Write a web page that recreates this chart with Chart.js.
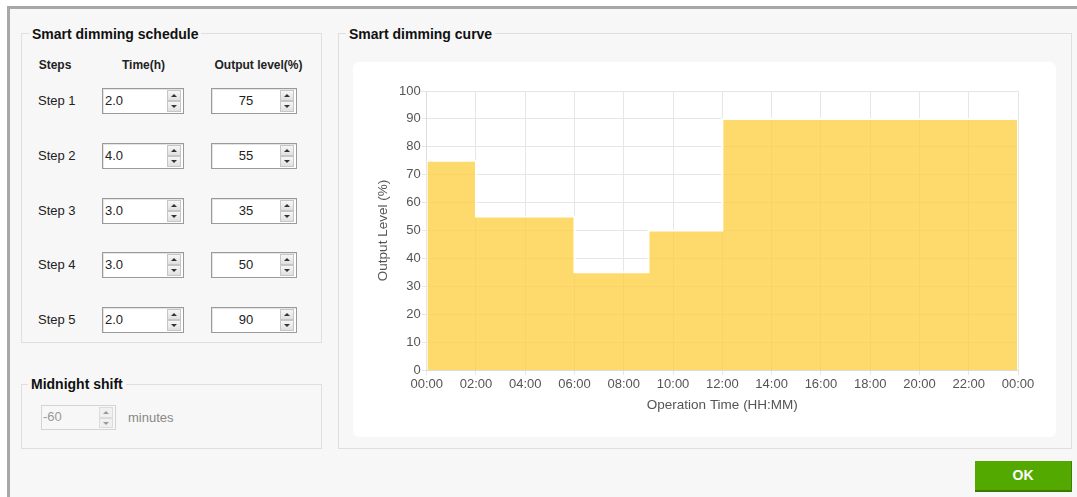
<!DOCTYPE html>
<html>
<head>
<meta charset="utf-8">
<script src="https://cdn.jsdelivr.net/npm/chart.js@4.4.1/dist/chart.umd.min.js"></script>
<style>
  body { margin: 0; width: 1077px; height: 497px; overflow: hidden; background: #fff;
         font-family: Arial, "Liberation Sans", sans-serif; color: #222; position: relative; }
  .dialog { position: absolute; left: 7px; top: 6px; width: 1070px; height: 491px; box-sizing: border-box;
            background: #f7f7f7; border-left: 3px solid #a8a8a8; border-top: 3px solid #a8a8a8; }
  .box { position: absolute; box-sizing: border-box; border: 1px solid #dfdfdf; }
  .legend { position: absolute; background: #f7f7f7; padding: 0 3px; font-weight: bold; font-size: 14px;
            line-height: 16px; color: #111; white-space: nowrap; }
  .txt { position: absolute; font-size: 13px; line-height: 16px; white-space: nowrap; }
  .hdr { position: absolute; font-size: 12px; font-weight: bold; line-height: 16px; white-space: nowrap;
         transform: translateX(-50%); }
  .inp { position: absolute; height: 26px; box-sizing: border-box; border: 1px solid #9a9a9a;
         background: #fff; box-shadow: inset 1px 1px 0 #e4e4e4; }
  .inp .val { position: absolute; top: 4px; font-size: 13px; line-height: 16px; color: #222; }
  .spin { position: absolute; top: 1px; width: 14px; height: 22px; }
  .spin div { position: absolute; left: 0; width: 14px; height: 11px; box-sizing: border-box;
              border: 1px solid #c6c6c6; background: linear-gradient(#f6f6f6, #e0e0e0); }
  .spin .up { top: 0; }
  .spin .dn { top: 11px; }
  .spin div::after { content: ""; position: absolute; left: 3px; width: 0; height: 0;
                     border-left: 3px solid transparent; border-right: 3px solid transparent; }
  .spin .up::after { top: 3px; border-bottom: 3px solid #333; }
  .spin .dn::after { top: 3px; border-top: 3px solid #333; }
  .dis { border-color: #d4d4d4; background: #f7f7f7; box-shadow: none; }
  .dis .val { color: #999; }
  .dis .spin div { border-color: #dcdcdc; background: #f0f0f0; }
  .dis .spin .up::after { border-bottom-color: #999; }
  .dis .spin .dn::after { border-top-color: #999; }
  .panel { position: absolute; left: 353px; top: 62px; width: 703px; height: 375px; background: #fff;
           border-radius: 6px; }
  .ok { position: absolute; left: 975px; top: 461px; width: 97px; height: 31px; box-sizing: border-box;
        background: #53a900; border-bottom: 2px solid #3a7800; border-right: 1px solid #3f8200;
        color: #fff; font-weight: bold; font-size: 14px; line-height: 29px; text-align: center; }
</style>
</head>
<body>
<div class="dialog"></div>

<div class="box" style="left:21px;top:33px;width:301px;height:310px;"></div>
<div class="legend" style="left:29px;top:26px;">Smart dimming schedule</div>
<div class="hdr" style="left:55px;top:57px;">Steps</div>
<div class="hdr" style="left:143.5px;top:57px;">Time(h)</div>
<div class="hdr" style="left:258.5px;top:57px;">Output level(%)</div>
<div id="rows"></div>

<div class="box" style="left:21px;top:384px;width:301px;height:65px;"></div>
<div class="legend" style="left:28px;top:376px;">Midnight shift</div>
<div class="inp dis" style="left:41px;top:405px;width:75px;height:25px;">
  <div class="val" style="left:1px;top:3px;" id="shift"></div>
  <div class="spin" style="right:2px;height:21px;"><div class="up"></div><div class="dn" style="height:10px"></div></div>
</div>
<div class="txt" style="left:128px;top:410px;color:#888;">minutes</div>

<div class="box" style="left:338px;top:33px;width:734px;height:416px;"></div>
<div class="legend" style="left:346px;top:26px;">Smart dimming curve</div>
<div class="panel"><canvas id="curve" width="703" height="375"></canvas></div>

<div class="ok">OK</div>

<script>
// schedule form values
const stepNames = ['Step 1', 'Step 2', 'Step 3', 'Step 4', 'Step 5'];
const stepTimes = ['2.0', '4.0', '3.0', '3.0', '2.0'];
const stepLevels = [75, 55, 35, 50, 90];
const midnightShift = -60;

// curve: start hour of each step (last one runs to 24:00) and its level
const curveHours = [0, 2, 6, 9, 12, 24];
const curveLevels = [75, 55, 35, 50, 90];
const timeLabels = ['00:00', '02:00', '04:00', '06:00', '08:00', '10:00', '12:00',
                    '14:00', '16:00', '18:00', '20:00', '22:00', '00:00'];

const spinHtml = '<div class="spin" style="right:2px"><div class="up"></div><div class="dn"></div></div>';
let html = '';
stepNames.forEach((name, i) => {
  const top = 88 + i * 54.75;
  html += `<div class="txt" style="left:38px;top:${top + 5}px;">${name}</div>`;
  html += `<div class="inp" style="left:102px;top:${top}px;width:82px;">
             <div class="val" style="left:2px;">${stepTimes[i]}</div>${spinHtml}</div>`;
  html += `<div class="inp" style="left:211px;top:${top}px;width:86px;">
             <div class="val" style="left:0;width:68px;text-align:center;">${stepLevels[i]}</div>${spinHtml}</div>`;
});
document.getElementById('rows').innerHTML = html;
document.getElementById('shift').textContent = midnightShift;

// outline of the stepped curve, closed down to 0 at both ends
const points = [{ x: curveHours[0], y: 0 }];
curveLevels.forEach((lvl, i) => points.push({ x: curveHours[i], y: lvl }));
points.push({ x: curveHours[curveHours.length - 1], y: curveLevels[curveLevels.length - 1] });
points.push({ x: curveHours[curveHours.length - 1], y: 0 });

const tickColor = '#555';
const titleFont = { family: 'Arial, "Liberation Sans", sans-serif', size: 13.5 };
const tickFont = { family: 'Arial, "Liberation Sans", sans-serif', size: 13 };

new Chart(document.getElementById('curve'), {
  type: 'line',
  data: {
    datasets: [{
      data: points,
      stepped: true,
      fill: 'origin',
      backgroundColor: 'rgba(253, 205, 60, 0.75)',
      borderColor: '#fff',
      borderWidth: 2,
      pointRadius: 0,
      clip: 0
    }]
  },
  options: {
    responsive: false,
    animation: false,
    devicePixelRatio: 1,
    layout: { padding: { top: 29, right: 38, left: 0, bottom: 0 } },
    plugins: { legend: { display: false }, tooltip: { enabled: false } },
    scales: {
      x: {
        type: 'linear',
        min: 0,
        max: 24,
        afterFit: s => { s.height = 67; },
        ticks: {
          stepSize: 2,
          autoSkip: false,
          maxRotation: 0,
          padding: 2,
          color: tickColor,
          font: tickFont,
          callback: v => timeLabels[v / 2]
        },
        grid: { color: '#e6e6e6', tickLength: 5 },
        border: { color: '#dcdcdc' },
        title: { display: true, text: 'Operation Time (HH:MM)', color: tickColor, font: titleFont,
                 padding: { top: 0, bottom: 23.7 } }
      },
      y: {
        min: 0,
        max: 100,
        afterFit: s => { s.width = 73.7; },
        ticks: { stepSize: 10, padding: 1, color: tickColor, font: tickFont },
        grid: { color: '#e6e6e6', tickLength: 5 },
        border: { color: '#dcdcdc' },
        title: { display: true, text: 'Output Level (%)', color: tickColor, font: titleFont,
                 padding: { top: 22.2, bottom: 0 } }
      }
    }
  }
});
</script>
</body>
</html>
